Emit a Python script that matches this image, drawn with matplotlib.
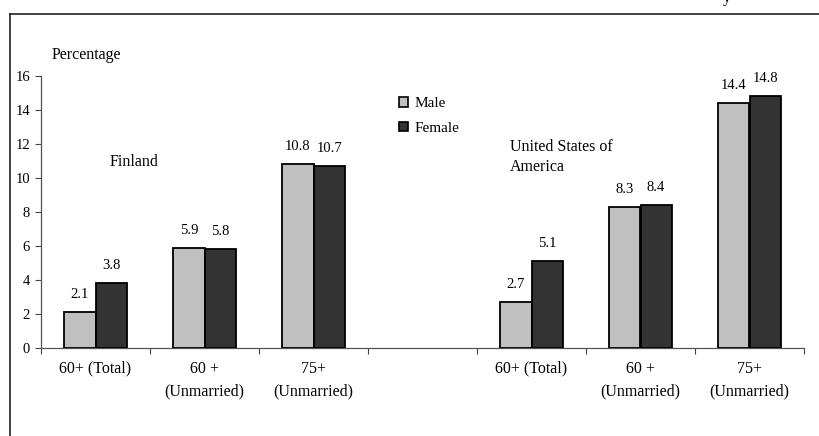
import matplotlib
matplotlib.use("Agg")
import matplotlib.pyplot as plt
from matplotlib.lines import Line2D
from matplotlib.patches import Patch

plt.rcParams['font.family'] = ['Liberation Serif', 'DejaVu Serif']

# Category layout: three Finland groups, an empty spacer, three USA groups
categories = ["60+ (Total)", "60 +\n(Unmarried)", "75+\n(Unmarried)", "",
              "60+ (Total)", "60 +\n(Unmarried)", "75+\n(Unmarried)"]
finland_male = [2.1, 5.9, 10.8]
finland_female = [3.8, 5.8, 10.7]
usa_male = [2.7, 8.3, 14.4]
usa_female = [5.1, 8.4, 14.8]
yticks = [0, 2, 4, 6, 8, 10, 12, 14, 16]

male_vals = finland_male + usa_male
female_vals = finland_female + usa_female
positions = [0, 1, 2, 4, 5, 6]

fig = plt.figure(figsize=(8.2, 4.36), dpi=100)
ax = fig.add_axes([41 / 820, 1 - 348 / 436, 763 / 820, 272 / 436])

w = 1 / 3.5
male_color = "#C0C0C0"
female_color = "#333333"
ax.bar([p - w / 2 for p in positions], male_vals, width=w, color=male_color,
       edgecolor="black", linewidth=1.3, zorder=3)
ax.bar([p + w / 2 for p in positions], female_vals, width=w, color=female_color,
       edgecolor="black", linewidth=1.3, zorder=3)

for p, v in zip(positions, male_vals):
    ax.text(p - w / 2, v + 0.82, f"{v}", ha="center", va="baseline", fontsize=10.5)
for p, v in zip(positions, female_vals):
    ax.text(p + w / 2, v + 0.82, f"{v}", ha="center", va="baseline", fontsize=10.5)

ax.set_xlim(-0.5, len(categories) - 0.5)
ax.set_ylim(0, 16)
ax.set_yticks(yticks)
ax.set_yticklabels([str(t) for t in yticks], fontsize=10.5)

# Boundary ticks between groups, labels centred under each group
ax.set_xticks([i - 0.5 for i in range(len(categories) + 1)])
ax.set_xticklabels([])
ax.set_xticks(range(len(categories)), minor=True)
ax.set_xticklabels(categories, minor=True, fontsize=11.5, linespacing=1.6)
ax.tick_params(axis="x", which="minor", length=0, pad=9)
ax.tick_params(axis="x", which="major", direction="out", length=4, width=0.8, color="#444444")
ax.tick_params(axis="y", direction="out", length=4, width=0.8, color="#444444", pad=4)

for s in ("top", "right"):
    ax.spines[s].set_visible(False)
for s in ("left", "bottom"):
    ax.spines[s].set_color("#555555")
    ax.spines[s].set_linewidth(0.9)

ax.text(0.0144, 1.077, "Percentage", transform=ax.transAxes, fontsize=11.5,
        ha="left", va="center")
ax.text(0.133, 10.94, "Finland", fontsize=11.5, ha="left", va="center")
ax.text(3.80, 11.25, "United States of\nAmerica", fontsize=11.5, ha="left",
        va="center", linespacing=1.3)

handles = [Patch(facecolor=male_color, edgecolor="black", linewidth=1.2, label="Male"),
           Patch(facecolor=female_color, edgecolor="black", linewidth=1.2, label="Female")]
ax.legend(handles=handles, loc="upper left", bbox_to_anchor=(0.461, 0.945),
          frameon=False, fontsize=11, handlelength=0.6, handleheight=0.6,
          handletextpad=0.4, labelspacing=0.75, borderaxespad=0)

# Outer frame lines (top and left)
fig.add_artist(Line2D([10 / 820, 1.0], [1 - 14 / 436, 1 - 14 / 436],
                      color="#222222", linewidth=1.2, transform=fig.transFigure))
fig.add_artist(Line2D([10 / 820, 10 / 820], [0, 1 - 14 / 436],
                      color="#222222", linewidth=1.2, transform=fig.transFigure))

# Tail of a heading line running off the top edge
fig.text(723 / 820, 1 - 1.5 / 436, "y", fontsize=11.5, ha="left", va="baseline")

fig.savefig("out.png", dpi=100)
